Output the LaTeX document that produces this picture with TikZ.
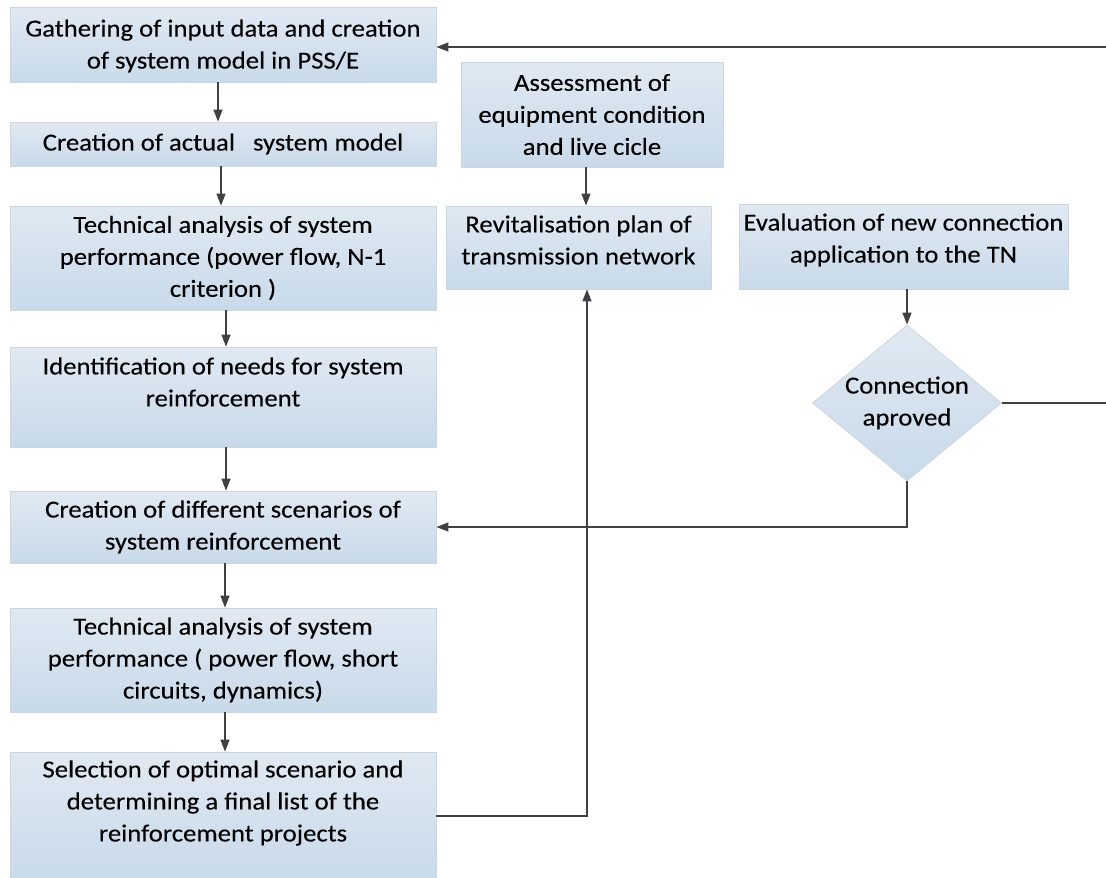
\documentclass[tikz,border=0pt]{standalone}
\usepackage{fontspec}
\setmainfont{Carlito}[FakeStretch=1.09,FakeBold=0.2]
\usetikzlibrary{shapes.geometric,arrows.meta,calc}
\definecolor{boxtop}{RGB}{224,233,242}
\definecolor{boxbot}{RGB}{200,218,234}
\definecolor{boxline}{RGB}{205,214,224}
\definecolor{conn}{RGB}{64,64,64}
\tikzset{
  flowbox/.style={rectangle, draw=boxline, line width=0.8pt, top color=boxtop, bottom color=boxbot,
    align=center, inner sep=0pt, font=\fontsize{24.5}{32}\selectfont, text=black},
  boxtext/.style={align=center, font=\fontsize{24.5}{32}\selectfont, text=black},
  decision/.style={diamond, draw=boxline, line width=0.8pt, top color=boxtop, bottom color=boxbot,
    align=center, inner sep=0pt, minimum width=189pt, minimum height=156pt, aspect=1.21,
    font=\fontsize{24.5}{32}\selectfont},
  conline/.style={draw=conn, line width=1.2pt},
  arr/.style={conline, -{Triangle[length=12pt,width=9pt]}},
}
\begin{document}
\begin{tikzpicture}[x=1pt,y=-1pt]
\useasboundingbox (0,0) rectangle (1106,878);
% left column
\node[flowbox, minimum width=426pt, minimum height=75pt] (B1) at (223,44.5) {};
\node[boxtext] at (223,46)
  {Gathering of input data and creation\\of system model in PSS/E};
\node[flowbox, minimum width=426pt, minimum height=44pt] (B2) at (223,144)
  {Creation of actual\ \ \ system model};
\node[flowbox, minimum width=426pt, minimum height=104pt] (B3) at (223,258)
  {Technical analysis of system\\performance (power flow, N-1\\criterion )};
\node[flowbox, minimum width=426pt, minimum height=100pt] (B4) at (223,397) {};
\node[boxtext] at (223,382)
  {Identification of needs for system\\reinforcement};
\node[flowbox, minimum width=426pt, minimum height=72pt] (B5) at (223,527)
  {Creation of different scenarios of\\system reinforcement};
\node[flowbox, minimum width=426pt, minimum height=104pt] (B6) at (223,660)
  {Technical analysis of system\\performance ( power flow, short\\circuits, dynamics)};
\node[flowbox, minimum width=426pt, minimum height=128pt] (B7) at (223,816) {};
\node[boxtext] at (223,803)
  {Selection of optimal scenario and\\determining a final list of the\\reinforcement projects};
% middle column
\node[flowbox, minimum width=262pt, minimum height=105pt] (A) at (592,114.5)
  {Assessment of\\equipment condition\\and live cicle};
\node[flowbox, minimum width=265pt, minimum height=83pt] (R) at (578.5,247.5) {};
\node[boxtext] at (578.5,240)
  {Revitalisation plan of\\transmission network};
% right column
\node[flowbox, minimum width=329pt, minimum height=85pt] (E) at (903.5,246.5) {};
\node[boxtext] at (903.5,240)
  {Evaluation of new connection\\application to the TN};
\node[decision] (D) at (907,403) {Connection\\aproved};
% connectors
\coordinate (topR) at (1106,47);
\coordinate (dR) at (1106,403);
\coordinate (vx) at (587,816);
\draw[arr] (topR) -- (topR -| B1.east);
\draw[arr] ([xshift=-5pt]B1.south) -- ([xshift=-5pt]B2.north);
\draw[arr] ([xshift=-2pt]B2.south) -- ([xshift=-2pt]B3.north);
\draw[arr] ([xshift=3pt]B3.south) -- ([xshift=3pt]B4.north);
\draw[arr] ([xshift=3pt]B4.south) -- ([xshift=3pt]B5.north);
\draw[arr] ([xshift=2pt]B5.south) -- ([xshift=2pt]B6.north);
\draw[arr] ([xshift=2pt]B6.south) -- ([xshift=2pt]B7.north);
\draw[arr] ([xshift=-6pt]A.south) -- ([xshift=7.5pt]R.north);
\draw[arr] (E.south -| D.north) -- (D.north);
\draw[conline] (D.east) -- (dR);
\draw[arr] (D.south) |- (B5.east);
\draw[arr] (B7.east) -- (vx) -- (vx |- R.south);
\end{tikzpicture}
\end{document}
